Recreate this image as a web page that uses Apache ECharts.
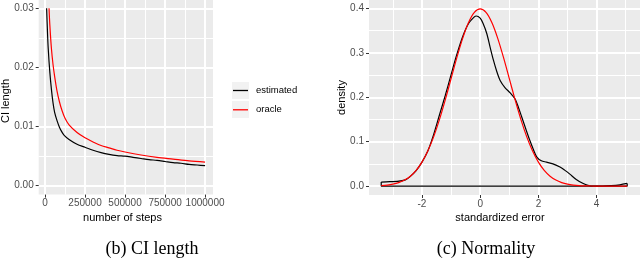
<!DOCTYPE html>
<html><head><meta charset="utf-8">
<script src="https://cdn.jsdelivr.net/npm/echarts@6/dist/echarts.min.js"></script>
<style>html,body{margin:0;padding:0;background:#fff}#c{width:640px;height:259px}</style>
</head><body><div id="c"></div>
<script>
// ---- Panel (b): CI length ----
const estSteps = [10000,15000,20000,30000,40000,50000,60000,75000,90000,105000,120000,150000,200000,250000,300000,350000,400000,450000,500000,550000,600000,650000,700000,750000,800000,850000,900000,950000,1000000];
const estCI    = [0.0300,0.0262,0.0232,0.0192,0.0163,0.0140,0.0124,0.0110,0.0099,0.0091,0.0085,0.0078,0.0070,0.0065,0.0060,0.0056,0.0053,0.0051,0.0050,0.0048,0.0046,0.0044,0.0043,0.0041,0.0039,0.0038,0.0036,0.0035,0.0034];
const oraSteps = [25000,30000,40000,50000,60000,75000,90000,105000,125000,150000,200000,250000,300000,350000,400000,450000,500000,600000,700000,800000,900000,1000000];
const oraCI    = [0.0300,0.0272,0.0232,0.0205,0.0185,0.0160,0.0142,0.0128,0.0114,0.0103,0.0090,0.0081,0.0074,0.0068,0.0064,0.0060,0.0057,0.0052,0.0048,0.0045,0.0042,0.0040];
const ciXTicks = [0,250000,500000,750000,1000000];
const ciXMinor = [125000,375000,625000,875000];
const ciYTicks = [0,0.01,0.02,0.03];
const ciYMinor = [0.005,0.015,0.025];
const ciXRange = [-39500, 1049500];
const ciYRange = [-0.0015, 0.0314];

// ---- Panel (c): Normality ----
const densX = [-3.40,-3.10,-2.85,-2.57,-2.40,-2.20,-2.00,-1.80,-1.60,-1.40,-1.20,-1.00,-0.80,-0.60,-0.40,-0.20,-0.137,0.00,0.10,0.228,0.34,0.457,0.57,0.685,0.85,1.03,1.20,1.32,1.43,1.57,1.71,1.83,1.94,2.10,2.28,2.50,2.74,2.90,3.08,3.30,3.54,3.70,3.88,4.20,4.50,4.80,5.05];
const densY = [0.009,0.010,0.0105,0.014,0.022,0.035,0.054,0.079,0.116,0.160,0.204,0.251,0.297,0.337,0.366,0.381,0.383,0.378,0.366,0.343,0.313,0.283,0.258,0.238,0.222,0.210,0.196,0.176,0.155,0.128,0.102,0.082,0.066,0.057,0.054,0.050,0.043,0.036,0.027,0.015,0.006,0.002,0.000,0.000,0.001,0.003,0.006];
const baseX = [-3.40,-3.40,5.05,5.05];
const baseY = [0.009,0,0,0.006];
const normX = [-3.4,-3.2,-3.0,-2.8,-2.6,-2.4,-2.2,-2.0,-1.8,-1.6,-1.4,-1.2,-1.0,-0.8,-0.6,-0.4,-0.2,0.0,0.2,0.4,0.6,0.8,1.0,1.2,1.4,1.6,1.8,2.0,2.2,2.4,2.6,2.8,3.0,3.2,3.4,3.6,3.8,4.0,4.5,5.05];
const normY = [0.0012,0.0024,0.0044,0.0079,0.0136,0.0224,0.0355,0.0540,0.0790,0.1109,0.1497,0.1942,0.2420,0.2897,0.3332,0.3683,0.3910,0.3989,0.3910,0.3683,0.3332,0.2897,0.2420,0.1942,0.1497,0.1109,0.0790,0.0540,0.0355,0.0224,0.0136,0.0079,0.0044,0.0024,0.0012,0.0006,0.0003,0.0001,0,0];
const nXTicks = [-2,0,2,4];
const nXMinor = [-3,-1,1,3,5];
const nYTicks = [0,0.1,0.2,0.3,0.4];
const nYMinor = [0.05,0.15,0.25,0.35];
const nXRange = [-3.82, 5.49];
const nYRange = [-0.02, 0.419];

const SANS = '"Liberation Sans", Arial, sans-serif';
const SERIF = '"Liberation Serif", "DejaVu Serif", serif';
const zip = (a, b) => a.map((v, i) => [v, b[i]]);

// main axis: labels, ticks and major grid lines at the given values
function valAxis(gi, range, ticks, fmt, margin) {
  return {
    type: 'value', gridIndex: gi, min: range[0], max: range[1],
    axisLine: {show: false, onZero: false},
    splitLine: {show: true, customValues: ticks, lineStyle: {color: '#FFFFFF', width: 2, opacity: 1}},
    axisTick: {show: true, length: 3, customValues: ticks, lineStyle: {color: '#333333', width: 1}},
    axisLabel: {show: true, customValues: ticks, formatter: fmt, color: '#4D4D4D', fontSize: 10, fontFamily: SANS, margin: margin}
  };
}
// companion axis on the same range: minor grid lines only
function minorAxis(gi, range, minor, pos) {
  return {
    type: 'value', gridIndex: gi, min: range[0], max: range[1], position: pos,
    axisLine: {show: false, onZero: false}, axisTick: {show: false, customValues: minor}, axisLabel: {show: false, customValues: minor},
    splitLine: {show: true, customValues: minor, lineStyle: {color: '#FFFFFF', width: 1, opacity: 1}}
  };
}

const lineBase = {type: 'line', showSymbol: false, symbol: 'none', smooth: 0.3, z: 10, silent: true};

const option = {
  animation: false,
  grid: [
    {left: 38.7, top: 0, width: 174.3, height: 194.6, show: true, backgroundColor: '#EBEBEB', borderWidth: 0},
    {left: 369, top: 0, width: 271, height: 195, show: true, backgroundColor: '#EBEBEB', borderWidth: 0}
  ],
  xAxis: [
    valAxis(0, ciXRange, ciXTicks, v => String(v), 4),
    valAxis(1, nXRange, nXTicks, v => String(v), 4),
    minorAxis(0, ciXRange, ciXMinor, 'top'),
    minorAxis(1, nXRange, nXMinor, 'top')
  ],
  yAxis: [
    valAxis(0, ciYRange, ciYTicks, v => v.toFixed(2), 5),
    valAxis(1, nYRange, nYTicks, v => v.toFixed(1), 5),
    minorAxis(0, ciYRange, ciYMinor, 'right'),
    minorAxis(1, nYRange, nYMinor, 'right')
  ],
  legend: {
    data: ['estimated', 'oracle'], orient: 'vertical', left: 233, top: 82, padding: 0,
    itemWidth: 15, itemHeight: 1.3, itemGap: 2.3, icon: 'rect', selectedMode: false, z: 20,
    textStyle: {fontFamily: SANS, fontSize: 9.5, color: '#000000', lineHeight: 17, padding: [0, 0, 0, 3]}
  },
  series: [
    Object.assign({}, lineBase, {
      name: 'estimated', xAxisIndex: 0, yAxisIndex: 0, data: zip(estSteps, estCI),
      color: '#000000', lineStyle: {color: '#000000', width: 1.2}
    }),
    Object.assign({}, lineBase, {
      name: 'oracle', xAxisIndex: 0, yAxisIndex: 0, data: zip(oraSteps, oraCI),
      color: '#FF0000', lineStyle: {color: '#FF0000', width: 1.2}
    }),
    Object.assign({}, lineBase, {
      name: 'kde', xAxisIndex: 1, yAxisIndex: 1, data: zip(densX, densY),
      color: '#000000', lineStyle: {color: '#000000', width: 1.2}
    }),
    Object.assign({}, lineBase, {
      name: 'kde-base', xAxisIndex: 1, yAxisIndex: 1, data: zip(baseX, baseY), smooth: false,
      color: '#000000', lineStyle: {color: '#000000', width: 1.2}
    }),
    Object.assign({}, lineBase, {
      name: 'normal', xAxisIndex: 1, yAxisIndex: 1, data: zip(normX, normY), z: 11,
      color: '#FF0000', lineStyle: {color: '#FF0000', width: 1.2}
    })
  ],
  graphic: [
    {type: 'rect', shape: {x: 232, y: 82, width: 17, height: 17}, style: {fill: '#F2F2F2'}, z: 0, silent: true},
    {type: 'rect', shape: {x: 232, y: 101, width: 17, height: 17}, style: {fill: '#F2F2F2'}, z: 0, silent: true},
    {type: 'text', x: 122.5, y: 217.5, style: {text: 'number of steps', fontFamily: SANS, fontSize: 11, fill: '#000', align: 'center', verticalAlign: 'middle'}},
    {type: 'text', x: 500, y: 217.5, style: {text: 'standardized error', fontFamily: SANS, fontSize: 11, fill: '#000', align: 'center', verticalAlign: 'middle'}},
    {type: 'text', x: 6, y: 101, rotation: Math.PI / 2, style: {text: 'CI length', fontFamily: SANS, fontSize: 11, fill: '#000', align: 'center', verticalAlign: 'middle'}},
    {type: 'text', x: 341.5, y: 97.5, rotation: Math.PI / 2, style: {text: 'density', fontFamily: SANS, fontSize: 11, fill: '#000', align: 'center', verticalAlign: 'middle'}},
    {type: 'text', x: 152, y: 249.5, style: {text: '(b) CI length', fontFamily: SERIF, fontSize: 18, fill: '#000', align: 'center', verticalAlign: 'middle'}},
    {type: 'text', x: 486, y: 249.5, style: {text: '(c) Normality', fontFamily: SERIF, fontSize: 18, fill: '#000', align: 'center', verticalAlign: 'middle'}}
  ]
};

const chart = echarts.init(document.getElementById('c'), null, {renderer: 'canvas'});
chart.setOption(option);
</script></body></html>
